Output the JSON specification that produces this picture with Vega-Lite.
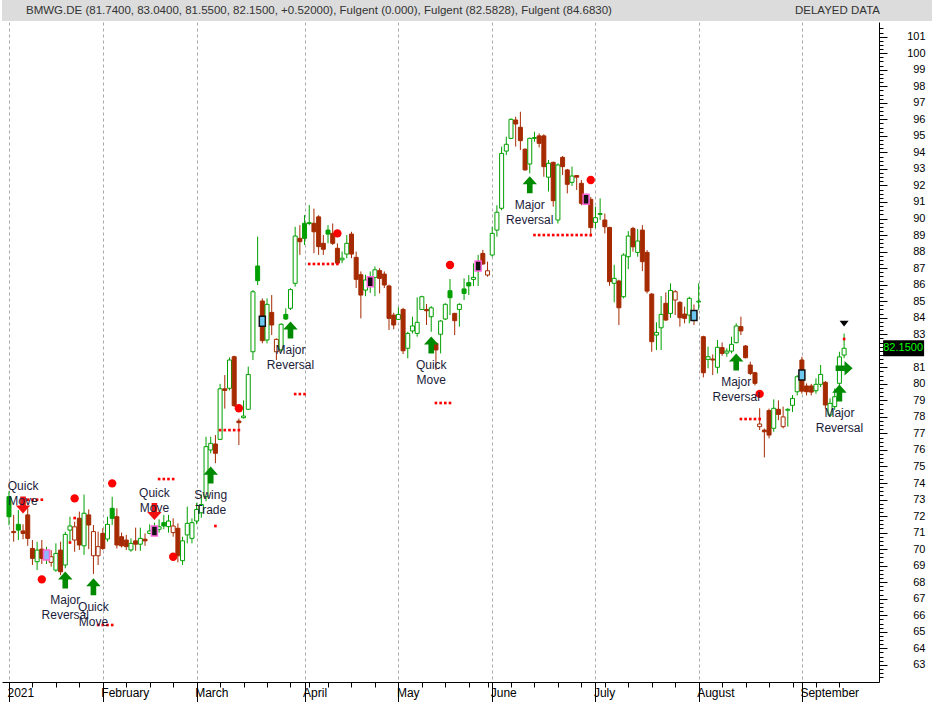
{
"$schema": "https://vega.github.io/schema/vega-lite/v6.json",
"padding": {"left": 2, "top": 0, "right": 0, "bottom": 0},
"spacing": 1,
"background": "#ffffff",
"config": {"view": {"stroke": null}, "font": "Liberation Sans"},
"datasets": {
"candles": [
{"i":0,"o":73.17,"h":73.5,"l":71.45,"c":71.96},{"i":1,"o":71.07,"h":72.07,"l":70.45,"c":71.0},{"i":2,"o":71.5,"h":72.36,"l":70.55,"c":71.15},{"i":3,"o":71.1,"h":71.5,"l":70.6,"c":70.95},{"i":4,"o":72.07,"h":72.5,"l":70.2,"c":70.65},{"i":5,"o":70.04,"h":70.55,"l":69.04,"c":69.44},{"i":6,"o":69.24,"h":70.45,"l":68.73,"c":69.94},{"i":7,"o":70.0,"h":70.55,"l":69.1,"c":69.44},{"i":8,"o":69.5,"h":70.14,"l":69.1,"c":69.8},{"i":9,"o":69.2,"h":69.94,"l":68.94,"c":69.54},
{"i":10,"o":68.73,"h":70.35,"l":68.63,"c":69.74},{"i":11,"o":69.94,"h":70.45,"l":68.43,"c":68.63},{"i":12,"o":69.04,"h":71.05,"l":68.84,"c":70.89},{"i":13,"o":71.15,"h":71.96,"l":70.45,"c":71.4},{"i":14,"o":70.55,"h":71.66,"l":69.84,"c":71.35},{"i":15,"o":71.87,"h":72.27,"l":69.95,"c":70.25},{"i":16,"o":70.2,"h":73.3,"l":69.65,"c":72.17},{"i":17,"o":72.07,"h":72.4,"l":70.0,"c":71.46},{"i":18,"o":69.6,"h":71.46,"l":68.5,"c":71.06},{"i":19,"o":69.6,"h":71.06,"l":69.04,"c":70.15},
{"i":20,"o":70.95,"h":71.26,"l":69.95,"c":70.04},{"i":21,"o":70.61,"h":71.96,"l":70.45,"c":71.5},{"i":22,"o":72.47,"h":73.17,"l":71.46,"c":71.86},{"i":23,"o":71.96,"h":72.47,"l":70.04,"c":70.25},{"i":24,"o":70.75,"h":71.0,"l":70.1,"c":70.2},{"i":25,"o":70.55,"h":70.86,"l":69.95,"c":70.15},{"i":26,"o":69.95,"h":70.65,"l":69.84,"c":70.35},{"i":27,"o":70.5,"h":71.3,"l":69.9,"c":70.3},{"i":28,"o":70.3,"h":71.3,"l":69.9,"c":70.65},{"i":29,"o":70.6,"h":70.95,"l":70.2,"c":70.5},
{"i":30,"o":70.95,"h":71.5,"l":70.9,"c":71.1},{"i":31,"o":70.95,"h":71.6,"l":70.85,"c":71.3},{"i":32,"o":71.2,"h":71.8,"l":71.0,"c":71.35},{"i":33,"o":71.6,"h":72.07,"l":71.2,"c":71.4},{"i":34,"o":71.36,"h":72.07,"l":71.0,"c":71.7},{"i":35,"o":71.0,"h":71.86,"l":70.75,"c":71.4},{"i":36,"o":71.26,"h":71.56,"l":69.2,"c":69.6},{"i":37,"o":69.3,"h":70.75,"l":69.04,"c":70.5},{"i":38,"o":70.86,"h":72.57,"l":70.35,"c":71.56},{"i":39,"o":70.65,"h":71.86,"l":70.35,"c":71.6},
{"i":40,"o":71.7,"h":72.8,"l":71.5,"c":72.4},{"i":41,"o":72.2,"h":73.3,"l":71.9,"c":72.7},{"i":42,"o":73.17,"h":76.8,"l":72.9,"c":76.2},{"i":43,"o":76.0,"h":76.8,"l":75.8,"c":76.4},{"i":44,"o":76.36,"h":76.9,"l":75.2,"c":75.8},{"i":45,"o":76.64,"h":80.0,"l":76.6,"c":79.7},{"i":46,"o":79.7,"h":80.53,"l":78.5,"c":79.6},{"i":47,"o":79.73,"h":81.6,"l":79.6,"c":81.44},{"i":48,"o":81.64,"h":81.7,"l":78.6,"c":78.68},{"i":49,"o":77.75,"h":77.9,"l":76.3,"c":77.65},
{"i":50,"o":77.95,"h":79.0,"l":77.9,"c":78.05},{"i":51,"o":78.46,"h":81.04,"l":78.42,"c":80.57},{"i":52,"o":81.94,"h":85.67,"l":81.44,"c":85.57},{"i":53,"o":87.13,"h":88.9,"l":85.98,"c":86.24},{"i":54,"o":85.01,"h":85.17,"l":82.45,"c":82.61},{"i":55,"o":82.65,"h":85.17,"l":82.45,"c":84.81},{"i":56,"o":84.32,"h":85.37,"l":82.95,"c":83.56},{"i":57,"o":81.94,"h":82.75,"l":81.44,"c":82.69},{"i":58,"o":82.05,"h":83.66,"l":81.94,"c":83.6},{"i":59,"o":84.2,"h":84.57,"l":83.86,"c":83.92},
{"i":60,"o":84.57,"h":85.78,"l":84.47,"c":85.7},{"i":61,"o":86.08,"h":89.5,"l":85.88,"c":88.94},{"i":62,"o":88.8,"h":89.6,"l":87.8,"c":88.6},{"i":63,"o":89.71,"h":90.21,"l":88.4,"c":88.8},{"i":64,"o":89.7,"h":90.82,"l":89.6,"c":89.75},{"i":65,"o":89.71,"h":90.6,"l":87.9,"c":89.2},{"i":66,"o":90.1,"h":90.2,"l":87.8,"c":88.3},{"i":67,"o":88.5,"h":89.0,"l":87.8,"c":88.14},{"i":68,"o":89.3,"h":89.6,"l":88.5,"c":89.06},{"i":69,"o":89.1,"h":89.7,"l":88.4,"c":88.5},
{"i":70,"o":88.2,"h":88.5,"l":87.2,"c":87.3},{"i":71,"o":87.5,"h":88.0,"l":87.3,"c":87.6},{"i":72,"o":87.85,"h":89.0,"l":87.6,"c":88.5},{"i":73,"o":89.06,"h":89.2,"l":87.6,"c":87.85},{"i":74,"o":87.65,"h":88.0,"l":85.8,"c":86.32},{"i":75,"o":86.6,"h":86.8,"l":83.96,"c":85.37},{"i":76,"o":85.67,"h":86.6,"l":85.3,"c":86.28},{"i":77,"o":86.0,"h":86.8,"l":85.5,"c":86.3},{"i":78,"o":86.44,"h":87.1,"l":85.3,"c":86.9},{"i":79,"o":86.85,"h":87.0,"l":85.47,"c":86.38},
{"i":80,"o":86.64,"h":86.8,"l":85.8,"c":85.98},{"i":81,"o":85.92,"h":86.0,"l":83.26,"c":83.96},{"i":82,"o":84.16,"h":84.3,"l":83.3,"c":83.56},{"i":83,"o":83.9,"h":84.63,"l":83.86,"c":84.2},{"i":84,"o":84.5,"h":84.6,"l":81.8,"c":82.0},{"i":85,"o":82.15,"h":83.15,"l":81.54,"c":83.05},{"i":86,"o":83.2,"h":84.06,"l":83.05,"c":83.5},{"i":87,"o":83.05,"h":85.23,"l":82.85,"c":83.72},{"i":88,"o":84.5,"h":85.33,"l":84.47,"c":85.27},{"i":89,"o":84.5,"h":84.83,"l":83.56,"c":84.42},
{"i":90,"o":84.06,"h":84.7,"l":83.15,"c":84.6},{"i":91,"o":82.45,"h":82.5,"l":80.84,"c":82.05},{"i":92,"o":83.0,"h":83.86,"l":81.84,"c":83.8},{"i":93,"o":83.92,"h":84.87,"l":83.86,"c":84.81},{"i":94,"o":85.63,"h":86.34,"l":84.16,"c":85.21},{"i":95,"o":84.26,"h":84.3,"l":82.95,"c":83.82},{"i":96,"o":84.5,"h":84.87,"l":83.46,"c":84.81},{"i":97,"o":85.74,"h":86.38,"l":85.07,"c":85.47},{"i":98,"o":86.12,"h":86.58,"l":85.37,"c":85.92},{"i":99,"o":86.32,"h":87.29,"l":85.92,"c":86.44},
{"i":100,"o":86.93,"h":87.8,"l":85.92,"c":87.33},{"i":101,"o":87.89,"h":88.1,"l":87.2,"c":87.25},{"i":102,"o":86.58,"h":87.39,"l":86.48,"c":86.84},{"i":103,"o":87.79,"h":89.5,"l":87.69,"c":89.1},{"i":104,"o":89.3,"h":90.8,"l":88.9,"c":90.38},{"i":105,"o":90.62,"h":94.35,"l":90.5,"c":93.94},{"i":106,"o":94.08,"h":94.95,"l":93.84,"c":94.49},{"i":107,"o":94.85,"h":96.06,"l":94.8,"c":96.0},{"i":108,"o":95.96,"h":96.16,"l":94.35,"c":95.72},{"i":109,"o":95.52,"h":96.46,"l":94.15,"c":94.71},
{"i":110,"o":94.19,"h":94.25,"l":92.9,"c":92.94},{"i":111,"o":93.3,"h":94.9,"l":92.73,"c":94.85},{"i":112,"o":94.85,"h":95.25,"l":94.65,"c":94.9},{"i":113,"o":95.0,"h":95.15,"l":94.3,"c":94.55},{"i":114,"o":95.0,"h":95.1,"l":92.53,"c":93.14},{"i":115,"o":92.5,"h":93.54,"l":91.63,"c":93.34},{"i":116,"o":93.4,"h":93.44,"l":90.72,"c":91.08},{"i":117,"o":89.91,"h":93.34,"l":89.7,"c":93.24},{"i":118,"o":93.7,"h":93.78,"l":92.63,"c":93.14},{"i":119,"o":92.94,"h":93.0,"l":91.52,"c":92.07},
{"i":120,"o":92.19,"h":93.14,"l":91.97,"c":92.57},{"i":121,"o":92.6,"h":92.63,"l":91.73,"c":92.5},{"i":122,"o":92.13,"h":92.33,"l":90.8,"c":90.92},{"i":123,"o":91.3,"h":91.5,"l":90.9,"c":91.0},{"i":124,"o":91.16,"h":91.3,"l":88.9,"c":89.45},{"i":125,"o":89.77,"h":90.72,"l":89.4,"c":90.05},{"i":126,"o":90.25,"h":91.22,"l":89.91,"c":90.3},{"i":127,"o":89.91,"h":90.3,"l":89.1,"c":89.5},{"i":128,"o":89.46,"h":89.5,"l":85.93,"c":86.18},{"i":129,"o":86.08,"h":87.2,"l":84.93,"c":86.38},
{"i":130,"o":86.22,"h":86.3,"l":83.56,"c":84.6},{"i":131,"o":85.27,"h":87.9,"l":85.17,"c":87.79},{"i":132,"o":87.69,"h":89.24,"l":86.94,"c":88.94},{"i":133,"o":89.4,"h":89.5,"l":88.0,"c":88.29},{"i":134,"o":87.95,"h":89.36,"l":87.69,"c":88.64},{"i":135,"o":89.3,"h":89.6,"l":86.82,"c":87.39},{"i":136,"o":87.95,"h":88.09,"l":85.47,"c":85.61},{"i":137,"o":85.43,"h":85.5,"l":81.94,"c":82.55},{"i":138,"o":82.95,"h":83.72,"l":82.04,"c":83.11},{"i":139,"o":83.39,"h":85.31,"l":82.04,"c":84.2},
{"i":140,"o":84.87,"h":85.53,"l":83.8,"c":83.86},{"i":141,"o":84.26,"h":86.08,"l":84.0,"c":85.65},{"i":142,"o":85.07,"h":85.67,"l":84.16,"c":85.57},{"i":143,"o":84.93,"h":85.0,"l":83.46,"c":84.0},{"i":144,"o":84.22,"h":84.67,"l":83.66,"c":83.96},{"i":145,"o":84.16,"h":85.27,"l":83.66,"c":85.17},{"i":146,"o":84.3,"h":84.8,"l":83.56,"c":83.96},{"i":147,"o":84.95,"h":86.08,"l":84.47,"c":85.0},{"i":148,"o":82.85,"h":82.91,"l":80.39,"c":80.67},{"i":149,"o":81.48,"h":82.25,"l":80.94,"c":81.64},
{"i":150,"o":81.5,"h":81.78,"l":80.53,"c":81.44},{"i":151,"o":81.0,"h":82.65,"l":80.63,"c":82.21},{"i":152,"o":82.19,"h":82.5,"l":81.7,"c":81.84},{"i":153,"o":81.86,"h":82.15,"l":81.64,"c":81.98},{"i":154,"o":81.98,"h":82.85,"l":81.84,"c":82.39},{"i":155,"o":82.49,"h":83.66,"l":82.45,"c":83.5},{"i":156,"o":83.46,"h":84.06,"l":82.95,"c":83.2},{"i":157,"o":82.29,"h":82.35,"l":81.54,"c":81.58},{"i":158,"o":81.14,"h":81.34,"l":80.53,"c":80.63},{"i":159,"o":80.67,"h":80.73,"l":79.9,"c":80.03},
{"i":160,"o":77.41,"h":78.52,"l":77.21,"c":77.57},{"i":161,"o":77.2,"h":77.3,"l":75.55,"c":77.1},{"i":162,"o":78.38,"h":78.5,"l":76.7,"c":76.9},{"i":163,"o":77.31,"h":79.06,"l":77.1,"c":78.52},{"i":164,"o":78.46,"h":79.0,"l":77.8,"c":78.15},{"i":165,"o":77.41,"h":78.62,"l":77.3,"c":78.0},{"i":166,"o":78.4,"h":78.52,"l":77.41,"c":78.46},{"i":167,"o":78.7,"h":79.32,"l":78.3,"c":79.12},{"i":168,"o":79.52,"h":80.53,"l":79.3,"c":80.43},{"i":169,"o":81.44,"h":81.64,"l":79.4,"c":79.56},
{"i":170,"o":79.87,"h":80.03,"l":79.3,"c":79.52},{"i":171,"o":79.87,"h":80.0,"l":79.3,"c":79.5},{"i":172,"o":79.58,"h":80.33,"l":79.4,"c":79.97},{"i":173,"o":79.97,"h":81.14,"l":79.8,"c":80.57},{"i":174,"o":80.09,"h":80.17,"l":78.5,"c":78.72},{"i":175,"o":78.11,"h":79.12,"l":78.0,"c":78.82},{"i":176,"o":78.62,"h":79.72,"l":78.42,"c":79.22},{"i":177,"o":80.03,"h":81.94,"l":79.93,"c":81.63},{"i":178,"o":81.74,"h":83.04,"l":81.55,"c":82.15}
],
"markers": [
{"i":8,"p":69.65,"k":"mix"},{"i":31,"p":71.1,"k":"pk"},{"i":54,"p":83.78,"k":"bl"},{"i":77,"p":86.18,"k":"pk"},{"i":100,"p":87.13,"k":"pk"},{"i":123,"p":91.16,"k":"pk"},{"i":146,"p":84.14,"k":"bl"},{"i":169,"p":80.53,"k":"bl"}
],
"stops": [
{"i":4,"p":72.99},{"i":5,"p":72.99},{"i":6,"p":72.99},{"i":7,"p":72.99},{"i":13,"p":70.4},{"i":14,"p":71.88},
{"i":19,"p":65.41},{"i":20,"p":65.41},{"i":21,"p":65.41},{"i":22,"p":65.41},
{"i":32,"p":74.24},{"i":33,"p":74.24},{"i":34,"p":74.24},{"i":35,"p":74.24},{"i":44,"p":71.4},
{"i":45,"p":77.2},{"i":46,"p":77.2},{"i":47,"p":77.2},{"i":48,"p":77.2},{"i":49,"p":77.2},
{"i":61,"p":79.38},{"i":62,"p":79.38},{"i":63,"p":79.38},
{"i":64,"p":87.25},{"i":65,"p":87.25},{"i":66,"p":87.25},{"i":67,"p":87.25},{"i":68,"p":87.25},{"i":69,"p":87.25},{"i":70,"p":87.25},
{"i":91,"p":78.84},{"i":92,"p":78.84},{"i":93,"p":78.84},{"i":94,"p":78.84},
{"i":112,"p":89.0},{"i":113,"p":89.0},{"i":114,"p":89.0},{"i":115,"p":89.0},{"i":116,"p":89.0},{"i":117,"p":89.0},{"i":118,"p":89.0},{"i":119,"p":89.0},{"i":120,"p":89.0},{"i":121,"p":89.0},{"i":122,"p":89.0},{"i":123,"p":89.0},{"i":124,"p":89.0},
{"i":156,"p":77.87},{"i":157,"p":77.87},{"i":158,"p":77.87},{"i":159,"p":77.87},{"i":160,"p":77.87},{"i":178,"p":82.71}
],
"dots": [
{"i":7,"p":68.17},{"i":14,"p":73.07},{"i":22,"p":73.98},{"i":35,"p":69.54},{"i":49,"p":78.52},{"i":70,"p":89.1},{"i":94,"p":87.19},{"i":124,"p":92.33},{"i":160,"p":79.39}
],
"signals": [
{"i":3,"p":72.67,"k":"down","t":"Quick\nMove"},
{"i":12,"p":68.13,"k":"up","t":"Major\nReversal"},
{"i":18,"p":67.73,"k":"up","t":"Quick\nMove"},
{"i":31,"p":72.27,"k":"down","t":"Quick\nMove"},
{"i":43,"p":74.48,"k":"up","t":"Swing\nTrade"},
{"i":60,"p":83.26,"k":"up","t":"Major\nReversal"},
{"i":90,"p":82.35,"k":"up","t":"Quick\nMove"},
{"i":111,"p":92.05,"k":"up","t":"Major\nReversal"},
{"i":155,"p":81.32,"k":"up","t":"Major\nReversal"},
{"i":177,"p":79.44,"k":"up","t":"Major\nReversal"},
{"i":178,"p":80.94,"k":"right","t":""},
{"i":178,"p":83.66,"k":"tri","t":""}
]
},
"vconcat": [
{
"width": 930, "height": 21,
"view": {"fill": "#dcdcdc", "stroke": null},
"data": {"values": [{"t": "BMWG.DE (81.7400, 83.0400, 81.5500, 82.1500, +0.52000), Fulgent  (0.000), Fulgent  (82.5828), Fulgent  (84.6830)"}, {"t": "DELAYED DATA"}]},
"encoding": {
"x": {"field": "t", "type": "nominal", "scale": {"type": "point", "padding": 0, "domain": ["BMWG.DE (81.7400, 83.0400, 81.5500, 82.1500, +0.52000), Fulgent  (0.000), Fulgent  (82.5828), Fulgent  (84.6830)", "DELAYED DATA"]}, "axis": null},
"text": {"field": "t"}
},
"layer": [
{"transform": [{"filter": "datum.t != 'DELAYED DATA'"}],
"mark": {"type": "text", "align": "left", "baseline": "middle", "dx": 24, "fontSize": 11.5, "font": "Liberation Sans", "color": "#333333"}},
{"transform": [{"filter": "datum.t == 'DELAYED DATA'"}],
"mark": {"type": "text", "align": "right", "baseline": "middle", "dx": -52, "fontSize": 11.5, "font": "Liberation Sans", "color": "#333333"}}
]
},
{
"width": 877, "height": 660,
"encoding": {
"x": {"field": "i", "type": "quantitative",
"scale": {"domain": [-0.42, 184.37], "nice": false, "zero": false},
"axis": {
"values": [0,5,10,15,20,25,30,35,40,45,50,55,60,63,64,68,73,78,83,88,93,98,102,103,107,112,117,122,125,127,132,137,142,147,152,157,162,167,169,172,177],
"labelExpr": "datum.value == 0 ? '2021' : datum.value == 20 ? 'February' : datum.value == 40 ? 'March' : datum.value == 63 ? 'April' : datum.value == 83 ? 'May' : datum.value == 103 ? 'June' : datum.value == 125 ? 'July' : datum.value == 147 ? 'August' : datum.value == 169 ? 'September' : ''",
"title": null,
"grid": true, "gridDash": [3, 3], "gridColor": "#a8a8a8", "gridWidth": 1,
"gridOpacity": {"condition": {"test": "indexof([0,20,40,63,83,103,125,147,169], datum.value) >= 0", "value": 1}, "value": 0},
"tickSize": {"condition": {"test": "indexof([0,20,40,63,83,103,125,147,169], datum.value) >= 0", "value": 20}, "value": 5},
"tickColor": "#000000", "domainColor": "#000000",
"labelAlign": "left", "labelBaseline": "middle", "labelPadding": -10, "labelOffset": -2,
"labelFontSize": 12, "labelColor": "#000000", "labelFont": "Liberation Sans",
"labelOverlap": false, "labelFlush": false, "labelBound": false
}
},
"y": {"field": "p", "type": "quantitative",
"scale": {"domain": [61.962, 101.889], "nice": false, "zero": false},
"axis": {
"orient": "right", "title": null, "grid": false,
"values": [62.25,62.5,62.75,63,63.25,63.5,63.75,64,64.25,64.5,64.75,65,65.25,65.5,65.75,66,66.25,66.5,66.75,67,67.25,67.5,67.75,68,68.25,68.5,68.75,69,69.25,69.5,69.75,70,70.25,70.5,70.75,71,71.25,71.5,71.75,72,72.25,72.5,72.75,73,73.25,73.5,73.75,74,74.25,74.5,74.75,75,75.25,75.5,75.75,76,76.25,76.5,76.75,77,77.25,77.5,77.75,78,78.25,78.5,78.75,79,79.25,79.5,79.75,80,80.25,80.5,80.75,81,81.25,81.5,81.75,82,82.25,82.5,82.75,83,83.25,83.5,83.75,84,84.25,84.5,84.75,85,85.25,85.5,85.75,86,86.25,86.5,86.75,87,87.25,87.5,87.75,88,88.25,88.5,88.75,89,89.25,89.5,89.75,90,90.25,90.5,90.75,91,91.25,91.5,91.75,92,92.25,92.5,92.75,93,93.25,93.5,93.75,94,94.25,94.5,94.75,95,95.25,95.5,95.75,96,96.25,96.5,96.75,97,97.25,97.5,97.75,98,98.25,98.5,98.75,99,99.25,99.5,99.75,100,100.25,100.5,100.75,101,101.25,101.5],
"labelExpr": "datum.value % 1 == 0 && datum.value != 82 ? format(datum.value, 'd') : ''",
"tickSize": {"condition": {"test": "datum.value % 1 == 0", "value": 8}, "value": 4},
"tickColor": "#000000", "domainColor": "#000000",
"labelAlign": "right", "labelBaseline": "middle", "labelPadding": 38,
"labelFontSize": 11, "labelColor": "#000000", "labelFont": "Liberation Sans",
"labelOverlap": false, "labelFlush": false, "labelBound": false
}
}
},
"layer": [
{
"data": {"name": "candles"},
"transform": [{"window": [{"op": "lag", "field": "c", "as": "pc"}], "sort": [{"field": "i", "order": "ascending"}]}],
"layer": [
{
"mark": {"type": "rule", "strokeWidth": 1},
"encoding": {
"y": {"field": "l"},
"y2": {"field": "h"},
"color": {"condition": {"test": "datum.pc != null && datum.c < datum.pc", "value": "#a52a00"}, "value": "#00a000"}
}
},
{
"mark": {"type": "bar", "width": 4, "strokeWidth": 1},
"encoding": {
"y": {"field": "o"},
"y2": {"field": "c"},
"fill": {"condition": [{"test": "datum.c > datum.o", "value": "#ffffff"}, {"test": "datum.pc != null && datum.c < datum.pc", "value": "#a52a00"}], "value": "#00a000"},
"stroke": {"condition": {"test": "datum.pc != null && datum.c < datum.pc", "value": "#a52a00"}, "value": "#00a000"}
}
}
]
},
{
"data": {"name": "markers"},
"mark": {"type": "point", "shape": "M-0.6,-1H0.6V1H-0.6Z", "size": 100, "filled": true, "opacity": 1, "strokeWidth": 1.5},
"encoding": {
"fill": {"field": "k", "type": "nominal", "scale": {"domain": ["mix", "pk", "bl"], "range": ["#8fb8ff", "#111111", "#6cc8f0"]}, "legend": null},
"stroke": {"field": "k", "type": "nominal", "scale": {"domain": ["mix", "pk", "bl"], "range": ["#ff66cc", "#ff66dd", "#111111"]}, "legend": null}
}
},
{
"data": {"name": "stops"},
"mark": {"type": "point", "shape": "square", "size": 7, "filled": true, "color": "#ff0000", "opacity": 1}
},
{
"data": {"name": "dots"},
"mark": {"type": "point", "shape": "circle", "size": 70, "filled": true, "color": "#ff0000", "opacity": 1}
},
{
"data": {"name": "signals"},
"transform": [{"filter": "datum.k == 'up'"}],
"layer": [
{"mark": {"type": "point", "shape": "M0,-1L0.85,-0.05L0.33,-0.05L0.33,1L-0.33,1L-0.33,-0.05L-0.85,-0.05Z", "size": 289, "filled": true, "color": "#008a00", "opacity": 1}},
{"mark": {"type": "text", "baseline": "top", "align": "center", "dy": 15, "fontSize": 12, "font": "Liberation Sans", "lineBreak": "\n", "lineHeight": 15, "color": "#1c1c3a"},
"encoding": {"text": {"field": "t"}}}
]
},
{
"data": {"name": "signals"},
"transform": [{"filter": "datum.k == 'down'"}],
"layer": [
{"mark": {"type": "point", "shape": "M0,1L0.85,0.05L0.33,0.05L0.33,-1L-0.33,-1L-0.33,0.05L-0.85,0.05Z", "size": 289, "filled": true, "color": "#f01010", "opacity": 1}},
{"mark": {"type": "text", "baseline": "bottom", "align": "center", "dy": -12, "fontSize": 12, "font": "Liberation Sans", "lineBreak": "\n", "lineHeight": 15, "color": "#1c1c3a"},
"encoding": {"text": {"field": "t"}}}
]
},
{
"data": {"name": "signals"},
"transform": [{"filter": "datum.k == 'right'"}],
"mark": {"type": "point", "shape": "M1,0L0.05,-0.85L0.05,-0.33L-1,-0.33L-1,0.33L0.05,0.33L0.05,0.85Z", "size": 289, "filled": true, "color": "#008a00", "opacity": 1}
},
{
"data": {"name": "signals"},
"transform": [{"filter": "datum.k == 'tri'"}],
"mark": {"type": "point", "shape": "M-1,-0.6L1,-0.6L0,0.7Z", "size": 81, "filled": true, "color": "#000000", "opacity": 1}
},
{
"data": {"name": "candles"},
"transform": [{"filter": "datum.i == 178"}],
"layer": [
{"mark": {"type": "point", "shape": "M3.9,-0.8H8.0V0.8H3.9Z", "size": 400, "filled": true, "color": "#000000", "opacity": 1},
"encoding": {"y": {"field": "c"}}},
{"mark": {"type": "text", "align": "center", "baseline": "middle", "dx": 59, "fontSize": 11, "font": "Liberation Sans", "color": "#00ff00"},
"encoding": {"y": {"field": "c"}, "text": {"field": "c", "type": "quantitative", "format": ".4f"}}}
]
}
]
}
]
}
